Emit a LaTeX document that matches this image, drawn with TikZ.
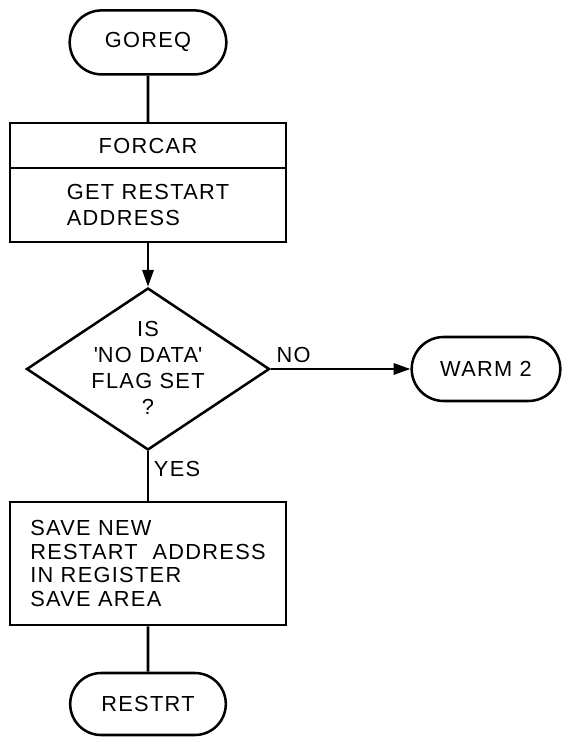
\documentclass[tikz,border=0pt]{standalone}
\usepackage{fontspec}
\setmainfont{Liberation Sans}[LetterSpace=6]
\usetikzlibrary{arrows.meta, shapes.geometric, shapes.misc}

\begin{document}
\begin{tikzpicture}[line width=1.8pt, >={Triangle[length=12pt, width=8pt]},
    every node/.style={font=\fontsize{15.5}{16.8}\selectfont},
    terminal/.style={draw, rounded rectangle, minimum width=4.15cm, minimum height=1.6cm},
    process/.style={draw, rectangle, minimum width=6.9cm, align=left},
    decision/.style={draw, diamond, minimum width=6.075cm, minimum height=4.05cm, inner sep=0pt}]
    \useasboundingbox (0, 0) rectangle (14.15, -18.425);

    % Entry
    \node[terminal] (goreq) at (3.7, -1.06) {GOREQ};

    % FORCAR block
    \node[process, minimum height=1.125cm] (forcar) at (3.7, -3.64) {FORCAR};
    \node[process, minimum height=1.85cm, font=\fontsize{15.5}{18.4}\selectfont] (getaddr) at (3.7, -5.125) {GET RESTART\\ADDRESS};

    % Test
    \node[decision] (flag) at (3.7, -9.225) {};
    \node[align=center, font=\fontsize{15.5}{18.6}\selectfont] (flagtext) at (3.7, -9.2) {IS\\\textquotesingle NO DATA\textquotesingle\\FLAG SET\\?};

    % Exits
    \node[terminal, minimum width=3.95cm] (warm) at (12.15, -9.225) {WARM 2};
    \node[process, minimum height=3.075cm] (savearea) at (3.7, -14.09) {SAVE NEW\\RESTART ~ADDRESS\\IN REGISTER\\SAVE AREA};
    \node[terminal, minimum width=4.125cm, minimum height=1.55cm] (restrt) at (3.7, -17.6) {RESTRT};

    % Connectors
    \draw (goreq) -- (forcar);
    \draw[->] (getaddr) -- (flag);
    \draw[->] (flag.east) -- node[pos=0, above right] {NO} (warm.west);
    \draw (flag.south) -- node[pos=0.35, right] {YES} (savearea.north);
    \draw (savearea) -- (restrt);
\end{tikzpicture}
\end{document}
